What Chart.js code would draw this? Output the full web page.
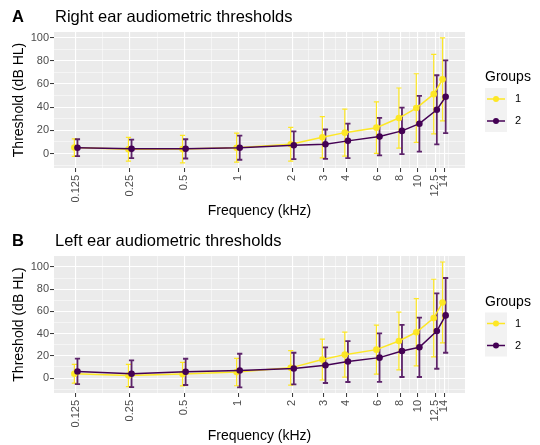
<!DOCTYPE html>
<html>
<head>
<meta charset="utf-8">
<script src="https://cdn.jsdelivr.net/npm/chart.js@4.4.1/dist/chart.umd.min.js"></script>
<style>
  body { margin: 0; background: #fff; }
  canvas { position: absolute; left: 0; }
</style>
</head>
<body>
<canvas id="rightEar" width="540" height="222" style="top:0"></canvas>
<canvas id="leftEar" width="540" height="222" style="top:223px"></canvas>
<script>
// test frequencies (kHz) and how they are printed on the axis
const freqs = [0.125, 0.25, 0.5, 1, 2, 3, 4, 6, 8, 10, 12.5, 14];
const freqLabels = ["0.125", "0.25", "0.5", "1", "2", "3", "4", "6", "8", "10", "12.5", "14"];
const yTicks = [0, 20, 40, 60, 80, 100];
const groupNames = ["1", "2"];

// right ear: mean threshold and SD (dB HL) per group
const rightMean1 = [5.1, 3.7, 3.8, 5.0, 8.0, 14.0, 18.0, 22.3, 30.6, 39.2, 51.2, 64.0];
const rightSd1   = [7.5, 10.3, 11.8, 12.5, 14.5, 17.8, 20.3, 22.2, 25.9, 29.6, 34.3, 35.8];
const rightMean2 = [5.0, 4.0, 4.0, 5.0, 7.1, 8.0, 10.9, 14.6, 19.5, 25.7, 37.7, 48.9];
const rightSd2   = [7.3, 8.0, 8.3, 10.4, 12.0, 12.7, 14.8, 16.2, 20.1, 24.0, 29.8, 31.4];

// left ear
const leftMean1 = [3.9, 2.4, 3.6, 5.4, 9.2, 16.7, 21.1, 25.6, 33.4, 41.2, 54.0, 68.0];
const leftSd1   = [8.4, 10.0, 10.6, 12.3, 15.5, 18.4, 20.3, 22.1, 26.0, 30.2, 34.9, 36.4];
const leftMean2 = [6.0, 3.9, 5.6, 6.8, 8.6, 11.6, 14.9, 18.4, 24.4, 27.7, 42.3, 56.4];
const leftSd2   = [11.5, 12.0, 11.8, 15.1, 14.2, 16.0, 18.4, 21.8, 23.4, 26.7, 33.9, 33.6];

const YELLOW = "#FDE725";
const PURPLE = "#440154";
const FONT = "'Liberation Sans', Arial, sans-serif";
const DODGE = 1.02;   // small horizontal split between the groups
const CAP = 2.6;

// minor grid lines sit halfway (on the log axis) between the labelled ones
const xMinor = freqs.slice(1).map((f, i) => Math.sqrt(f * freqs[i]));
xMinor.push(Math.sqrt(14 * 14 * 14 / 12.5));

const panelBg = {
  id: "panelBg",
  beforeDraw(chart) {
    const { ctx, chartArea: a } = chart;
    ctx.save();
    ctx.fillStyle = "#EBEBEB";
    ctx.fillRect(a.left, a.top, a.right - a.left, a.bottom - a.top);
    ctx.restore();
  }
};

const errorBars = {
  id: "errorBars",
  beforeDatasetsDraw(chart) {
    const { ctx } = chart;
    const y = chart.scales.y;
    chart.data.datasets.forEach((ds, i) => {
      const meta = chart.getDatasetMeta(i);
      ctx.save();
      ctx.strokeStyle = ds.barColor;
      ctx.lineWidth = ds.barWidth;
      ds.sd.forEach((s, j) => {
        const px = meta.data[j].x;
        const m = ds.data[j].y;
        const top = y.getPixelForValue(m + s);
        const bot = y.getPixelForValue(m - s);
        ctx.beginPath();
        ctx.moveTo(px, top); ctx.lineTo(px, bot);
        ctx.moveTo(px - CAP, top); ctx.lineTo(px + CAP, top);
        ctx.moveTo(px - CAP, bot); ctx.lineTo(px + CAP, bot);
        ctx.stroke();
      });
      ctx.restore();
    });
  }
};

// panel tag, title and the "Groups" key
const decor = {
  id: "decor",
  afterDraw(chart, args, o) {
    const { ctx, chartArea: a } = chart;
    ctx.save();
    ctx.fillStyle = "#000";
    ctx.textAlign = "left";
    ctx.textBaseline = "alphabetic";
    ctx.font = "bold 16.5px " + FONT;
    ctx.fillText(o.tag, 12, o.titleBase);
    ctx.font = "16.5px " + FONT;
    ctx.fillText(o.title, 55, o.titleBase);

    const cy = (a.top + a.bottom) / 2;
    const kx = 485, kw = 22, kh = 22;
    ctx.font = "14px " + FONT;
    ctx.fillText("Groups", kx, cy - 19);
    ctx.fillStyle = "#F2F2F2";
    ctx.fillRect(kx, cy - 12, kw, kh * 2);
    chart.data.datasets.forEach((ds, i) => {
      const ky = cy - 1 + i * kh;
      ctx.strokeStyle = ds.borderColor;
      ctx.lineWidth = 1.5;
      ctx.beginPath();
      ctx.moveTo(kx + 2, ky); ctx.lineTo(kx + kw - 2, ky);
      ctx.stroke();
      ctx.fillStyle = ds.borderColor;
      ctx.beginPath();
      ctx.arc(kx + kw / 2, ky, 3, 0, Math.PI * 2);
      ctx.fill();
      ctx.fillStyle = "#000";
      ctx.font = "11px " + FONT;
      ctx.textBaseline = "middle";
      ctx.fillText(ds.label, kx + kw + 8, ky);
      ctx.textBaseline = "alphabetic";
    });
    ctx.restore();
  }
};

function drawPanel(id, p) {
  const yAll = [];
  for (let v = -20; v <= 120; v += 10) if (v >= p.yMin && v <= p.yMax) yAll.push(v);
  const xAll = freqs.concat(xMinor).sort((a, b) => a - b);
  const isMajorX = v => freqs.includes(v);
  const isMajorY = v => yTicks.includes(v);
  const tickFont = { family: FONT, size: 11 };
  const titleFont = { family: FONT, size: 14 };

  new Chart(document.getElementById(id), {
    type: "line",
    data: {
      datasets: [
        {
          label: groupNames[0],
          data: freqs.map((f, i) => ({ x: f / DODGE, y: p.mean1[i] })),
          sd: p.sd1, barColor: YELLOW, barWidth: 1.2,
          borderColor: YELLOW, backgroundColor: YELLOW, borderWidth: 1.5,
          pointRadius: 3.3, pointBorderWidth: 0, order: 1
        },
        {
          label: groupNames[1],
          data: freqs.map((f, i) => ({ x: f * DODGE, y: p.mean2[i] })),
          sd: p.sd2, barColor: "rgba(68,1,84,0.85)", barWidth: 1.8,
          borderColor: PURPLE, backgroundColor: PURPLE, borderWidth: 1.5,
          pointRadius: 3.3, pointBorderWidth: 0, order: 0
        }
      ]
    },
    options: {
      responsive: false,
      animation: false,
      layout: { padding: { top: p.top, right: 75, bottom: 0, left: 0 } },
      plugins: {
        legend: { display: false },
        tooltip: { enabled: false },
        decor: { tag: p.tag, title: p.title, titleBase: p.titleBase }
      },
      scales: {
        x: {
          type: "logarithmic",
          min: 0.0944,
          max: 18.3,
          afterBuildTicks: s => { s.ticks = xAll.map(v => ({ value: v })); },
          afterFit: s => { s.height = p.xAxisHeight; },
          ticks: {
            autoSkip: false, minRotation: 90, maxRotation: 90, padding: 3,
            font: tickFont, color: "#4D4D4D",
            callback: v => { const k = freqs.indexOf(v); return k >= 0 ? freqLabels[k] : ""; }
          },
          grid: {
            color: "#FFFFFF",
            lineWidth: c => isMajorX(c.tick.value) ? 1.1 : 0.5,
            tickColor: c => isMajorX(c.tick.value) ? "#333333" : "rgba(0,0,0,0)",
            tickLength: 4, tickWidth: 1
          },
          border: { display: false },
          title: {
            display: true, text: "Frequency (kHz)", color: "#000",
            font: titleFont, padding: { top: 0, bottom: p.xTitlePad }
          }
        },
        y: {
          min: p.yMin,
          max: p.yMax,
          afterBuildTicks: s => { s.ticks = yAll.map(v => ({ value: v })); },
          afterFit: s => { s.width = 54; },
          ticks: {
            autoSkip: false, padding: 1, font: tickFont, color: "#4D4D4D",
            callback: v => isMajorY(v) ? String(v) : ""
          },
          grid: {
            color: "#FFFFFF",
            lineWidth: c => isMajorY(c.tick.value) ? 1.1 : 0.5,
            tickColor: c => isMajorY(c.tick.value) ? "#333333" : "rgba(0,0,0,0)",
            tickLength: 4, tickWidth: 1
          },
          border: { display: false },
          title: {
            display: true, text: "Threshold (dB HL)", color: "#000",
            font: titleFont, padding: { top: 11, bottom: 0 }
          }
        }
      }
    },
    plugins: [panelBg, errorBars, decor]
  });
}

drawPanel("rightEar", {
  tag: "A", title: "Right ear audiometric thresholds", titleBase: 21.7,
  mean1: rightMean1, sd1: rightSd1, mean2: rightMean2, sd2: rightSd2,
  top: 32, xAxisHeight: 54, xTitlePad: 2.6, yMin: -12.5, yMax: 104.8
});

drawPanel("leftEar", {
  tag: "B", title: "Left ear audiometric thresholds", titleBase: 22.7,
  mean1: leftMean1, sd1: leftSd1, mean2: leftMean2, sd2: leftSd2,
  top: 33, xAxisHeight: 52, xTitlePad: 0.6, yMin: -13.4, yMax: 109.8
});
</script>
</body>
</html>
